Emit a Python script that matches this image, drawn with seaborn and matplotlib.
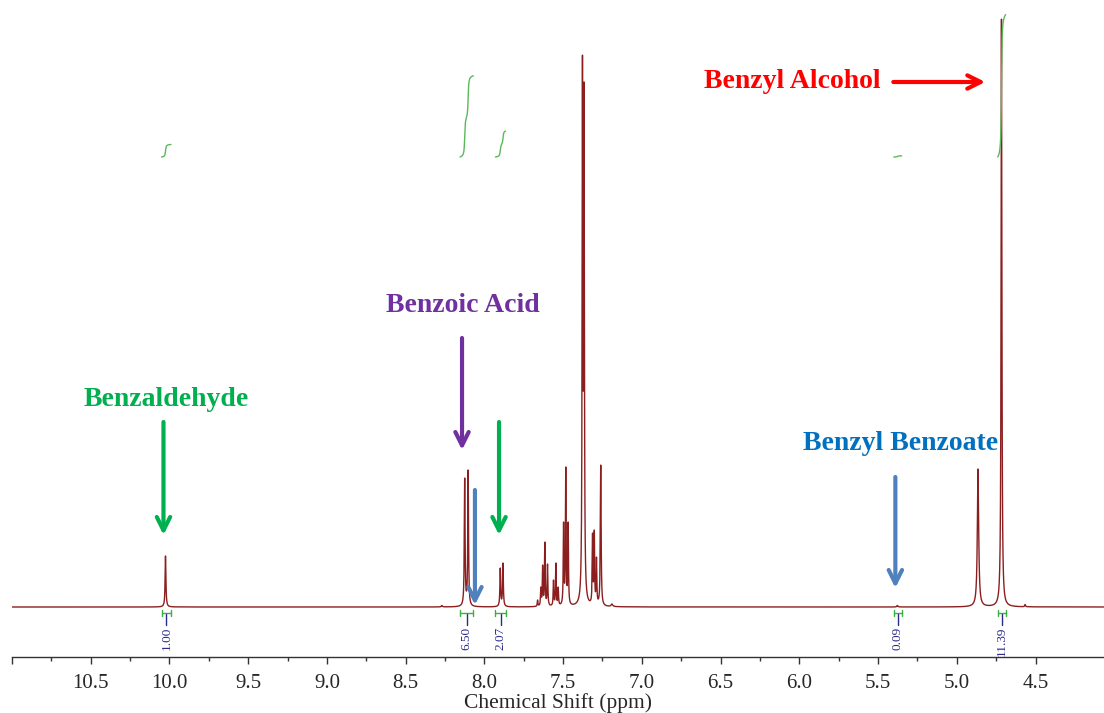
import numpy as np
import matplotlib
matplotlib.use("Agg")
import matplotlib.pyplot as plt
import seaborn as sns
import pandas as pd

# ---------------- data ----------------
# 1H NMR peak list read from the picture (ppm, observed height, half width)
peak_ppm = [10.025, 8.270, 8.125, 8.103, 7.899, 7.882,
            7.662, 7.641, 7.630, 7.616, 7.599, 7.561, 7.546, 7.531,
            7.497, 7.483, 7.468, 7.377, 7.367,
            7.313, 7.302, 7.288, 7.261, 7.190,
            5.377, 4.865, 4.716, 4.566]
peak_height = [51, 1.5, 129, 137, 39, 44,
               7, 20, 42, 65, 43, 27, 44, 20,
               85, 140, 85, 552, 525,
               74, 77, 50, 142, 3,
               1.5, 138, 588, 2.5]
peak_hwhm = [0.003, 0.004, 0.0028, 0.0028, 0.0028, 0.0028,
             0.0024, 0.0024, 0.0024, 0.0024, 0.0024, 0.0024, 0.0024, 0.0024,
             0.0024, 0.0024, 0.0024, 0.0026, 0.0026,
             0.0024, 0.0024, 0.0024, 0.0028, 0.006,
             0.004, 0.005, 0.003, 0.003]

# integration regions and values
int_hi = [10.05, 8.155, 7.93, 5.40, 4.74]
int_lo = [9.99, 8.07, 7.865, 5.35, 4.69]
int_values = [1.00, 6.50, 2.07, 0.09, 11.39]
int_labels = ["1.00", "6.50", "2.07", "0.09", "11.39"]

# compound annotations
label_text = ["Benzaldehyde", "Benzoic Acid", "Benzyl Benzoate", "Benzyl Alcohol"]
label_ppm = [10.02, 8.136, 5.358, 6.043]
label_y = [207, 301, 163, 525]
label_color = ["#00b050", "#7030a0", "#0070c0", "#ff0000"]

# arrows: (tail ppm, tail y) -> (head ppm, head y)
arrow_x0 = [10.038, 8.142, 8.060, 7.907, 5.390, 5.403]
arrow_y0 = [185, 269, 117, 185, 130, 525]
arrow_x1 = [10.038, 8.142, 8.060, 7.907, 5.390, 4.819]
arrow_y1 = [72, 157, 2, 72, 19, 525]
arrow_color = ["#00b050", "#7030a0", "#4f81bd", "#00b050", "#4f81bd", "#ff0000"]

major_ticks = [11.0, 10.5, 10.0, 9.5, 9.0, 8.5, 8.0, 7.5, 7.0, 6.5, 6.0, 5.5, 5.0, 4.5]

# ---------------- spectrum from peak list ----------------
ppm = np.linspace(4.0, 11.1, 40000)
pos = np.array(peak_ppm)
hw = np.array(peak_hwhm)
obs = np.array(peak_height, dtype=float)


def lor(x, c, w):
    return w ** 2 / ((x - c) ** 2 + w ** 2)


# amplitudes such that the summed spectrum has the read heights at the peak positions
A = lor(pos[:, None], pos[None, :], hw[None, :])
amp = np.linalg.solve(A, obs)
spec = (amp[None, :] * lor(ppm[:, None], pos[None, :], hw[None, :])).sum(axis=1)

df = pd.DataFrame({"ppm": ppm, "intensity": spec})

# ---------------- figure ----------------
sns.set_theme(style="white")
plt.rcParams["font.family"] = ["Liberation Serif", "DejaVu Serif"]

fig = plt.figure(figsize=(11.04, 7.13), dpi=100)
ax = fig.add_axes([12 / 1104, 56 / 713, 1 - 12 / 1104, 1 - 56 / 713])

sns.lineplot(data=df, x="ppm", y="intensity", ax=ax, color="#8b1f1f",
             lw=1.0, estimator=None, sort=False)

# integral curves
int_base = 450
int_scale = 12.5
for lo, hi, val in zip(int_lo, int_hi, int_values):
    m = (ppm >= lo) & (ppm <= hi)
    x = ppm[m][::-1]
    y = spec[m][::-1]
    c = np.cumsum(y)
    c = (c - c[0]) / (c[-1] - c[0])
    ax.plot(x, int_base + c * val * int_scale, color="#5cb85c", lw=1.0)

# integration brackets and labels
for lo, hi, lab in zip(int_lo, int_hi, int_labels):
    mid = 0.5 * (lo + hi)
    ax.plot([hi, lo], [-6, -6], color="#3cb043", lw=1.0)
    ax.plot([hi, hi], [-9, -3], color="#3cb043", lw=1.0)
    ax.plot([lo, lo], [-9, -3], color="#3cb043", lw=1.0)
    ax.plot([mid, mid], [-7, -18], color="#2a2a8a", lw=1.0)
    ax.text(mid, -20, lab, rotation=90, ha="center", va="top",
            fontsize=9.5, color="#2a2a8a")

# arrows
for x0, y0, x1, y1, col in zip(arrow_x0, arrow_y0, arrow_x1, arrow_y1, arrow_color):
    ax.annotate("", xy=(x1, y1), xytext=(x0, y0),
                arrowprops=dict(arrowstyle="->", color=col, lw=3,
                                mutation_scale=24, shrinkA=0, shrinkB=0))

# compound labels
for t, xp, yp, col in zip(label_text, label_ppm, label_y, label_color):
    ax.text(xp, yp, t, ha="center", va="center", fontsize=20,
            fontweight="bold", color=col)

# axes styling
ax.set_xlim(11.0, 4.065)
ax.set_ylim(-50, 607)
for s in ["left", "top", "right"]:
    ax.spines[s].set_visible(False)
ax.spines["bottom"].set_color("#333333")
ax.spines["bottom"].set_linewidth(1.0)
ax.set_yticks([])
ax.set_ylabel("")
ax.set_xticks(major_ticks)
ax.set_xticklabels(["" if t == 11.0 else f"{t:.1f}" for t in major_ticks])
ax.set_xticks(np.array(major_ticks[1:]) + 0.25, minor=True)
ax.tick_params(axis="x", which="major", direction="out", length=5, width=1,
               color="#333333", labelsize=15, pad=7, bottom=True)
ax.tick_params(axis="x", which="minor", direction="out", length=3, width=1,
               color="#333333", bottom=True)
ax.set_xlabel("Chemical Shift (ppm)", fontsize=15.5, labelpad=0)

fig.savefig("out.png", dpi=100)
